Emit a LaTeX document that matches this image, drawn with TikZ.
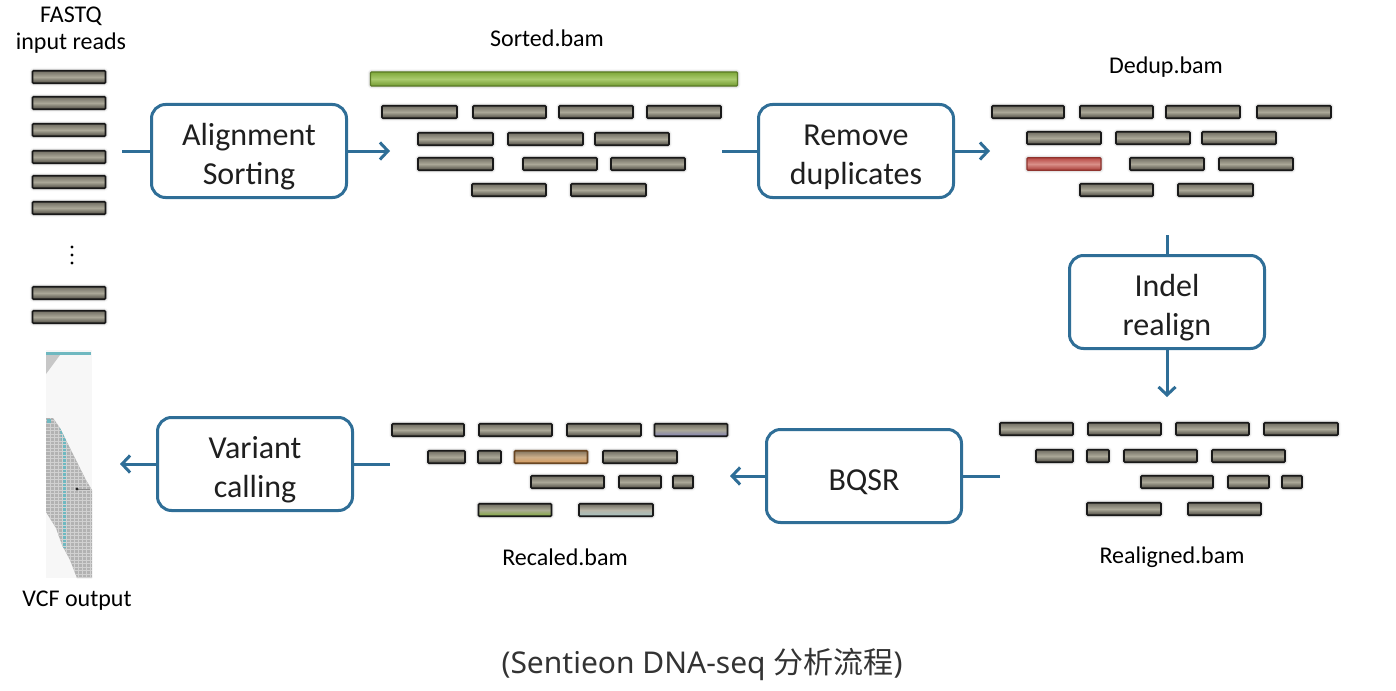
\documentclass[tikz,border=0pt]{standalone}
\usepackage{fontspec}
\setmainfont{Carlito}
\newfontfamily\cjk{Noto Sans CJK SC}
\newfontfamily\capfont{Noto Sans}
\usepackage{tikz}
\usetikzlibrary{arrows.meta,positioning,shadows.blur}

\definecolor{flow}{HTML}{2F6E97}
\definecolor{rdA}{HTML}{6F6C61}
\definecolor{rdC}{HTML}{ABA898}
\definecolor{rdB}{HTML}{4B4941}
\definecolor{refA}{HTML}{7FA83A}
\definecolor{refC}{HTML}{AACB6E}
\definecolor{refB}{HTML}{729A30}
\definecolor{dupA}{HTML}{B84A45}
\definecolor{dupC}{HTML}{D98F88}
\definecolor{dupB}{HTML}{A83C36}
\definecolor{orgC}{HTML}{CDAF8A}
\definecolor{orgB}{HTML}{D6995A}
\definecolor{vteal}{HTML}{6FB8C0}
\definecolor{capt}{HTML}{333333}

% text lines sit a little low in the step boxes
\newcommand{\lowln}[1]{\raisebox{-6pt}[\height][\depth]{#1}}

\begin{document}
\begin{tikzpicture}[
  x=1pt, y=-1pt,
  font=\fontsize{32}{39}\selectfont,
  proc/.style={draw=flow, line width=3pt, rounded corners=14pt, fill=white,
    minimum width=195pt, minimum height=93pt, align=center, text=black!88},
  lnk/.style={draw=flow, line width=3pt},
  rd/.style={draw=black!90, line width=1.7pt, rounded corners=1pt, inner sep=0pt,
    minimum height=12.5pt, top color=rdA, bottom color=rdB, middle color=rdC,
    blur shadow={shadow xshift=0pt, shadow yshift=0pt, shadow blur radius=3pt, shadow opacity=40}},
  lbl/.style={font=\fontsize{24}{27}\selectfont, align=center},
  >={Straight Barb[length=8pt,width=17pt]},
]
\useasboundingbox (0,0) rectangle (1396,690);

% process boxes
\node[proc] (align) at (249,151) {\lowln{Alignment}\\\lowln{Sorting}};
\node[proc] (dedup) at (856,151) {\lowln{Remove}\\\lowln{duplicates}};
\node[proc] (indel) at (1167,302) {\lowln{Indel}\\\lowln{realign}};
\node[proc] (bqsr) at (864,476) {\lowln{BQSR}};
\node[proc] (vcall) at (255,464) {\lowln{Variant}\\\lowln{calling}};

% free ends of the connectors
\coordinate (fqout) at (122,151);
\coordinate (srtin) at (390,151);
\coordinate (srtout) at (722,151);
\coordinate (ddin) at (990,151);
\coordinate (ddout) at (1167,235);
\coordinate (rlin) at (1167,397);
\coordinate (rlout) at (1000,476);
\coordinate (rcin) at (730,476);
\coordinate (rcout) at (390,464);
\coordinate (vcfin) at (120,464);

\draw[lnk] (fqout) -- (align);
\draw[lnk, ->] (align) -- (srtin);
\draw[lnk] (srtout) -- (dedup);
\draw[lnk, ->] (dedup) -- (ddin);
\draw[lnk] (ddout) -- (indel);
\draw[lnk, ->] (indel) -- (rlin);
\draw[lnk] (rlout) -- (bqsr);
\draw[lnk, ->] (bqsr) -- (rcin);
\draw[lnk] (rcout) -- (vcall);
\draw[lnk, ->] (vcall) -- (vcfin);

% FASTQ reads
\node[lbl] (fqlbl) at (71,30) {FASTQ\\input reads};
\foreach \y [count=\i] in {77,103,130,157,182,208,293,317}
  \node[rd, minimum width=73pt] (fq\i) at (69,\y) {};
\foreach \y in {247,255,263}
  \fill (72,\y) circle (1.6pt);

% Sorted.bam
\node[lbl] (srtlbl) at (547,38) {Sorted.bam};
\node[rd, minimum width=367pt, minimum height=14pt, line width=1.3pt, draw=refB!80!black,
  top color=refA, bottom color=refB, middle color=refC] (ref) at (554,79) {};
\foreach \a/\b/\y [count=\i] in {382/457/112, 473/546/112, 559/633/112, 647/721/112,
    418/493/139, 508/583/139, 595/669/139,
    418/493/164, 523/597/164, 611/685/164,
    472/546/190, 571/646/190}
  \node[rd, minimum width={\b-\a}] (srt\i) at ({(\a+\b)/2},\y) {};

% Dedup.bam
\node[lbl] (ddlbl) at (1166,67) {Dedup.bam};
\foreach \a/\b/\y [count=\i] in {992/1064/112, 1080/1153/112, 1166/1240/112, 1257/1331/112,
    1027/1101/138, 1116/1190/138, 1202/1276/138,
    1130/1204/164, 1219/1293/164,
    1080/1153/190, 1178/1253/190}
  \node[rd, minimum width={\b-\a}] (dd\i) at ({(\a+\b)/2},\y) {};
\node[rd, minimum width=74pt, line width=1.3pt, draw=dupB!85!black, top color=dupA, bottom color=dupB, middle color=dupC]
  (dup) at (1064,164) {};

% Realigned.bam
\node[lbl] (rllbl) at (1172,557) {Realigned.bam};
\foreach \a/\b/\y [count=\i] in {1000/1073/429, 1088/1161/429, 1176/1249/429, 1264/1338/429,
    1036/1073/456, 1087/1109/456, 1124/1197/456, 1212/1285/456,
    1141/1213/482, 1228/1269/482, 1282/1302/482,
    1087/1161/509, 1188/1261/509}
  \node[rd, minimum width={\b-\a}] (rl\i) at ({(\a+\b)/2},\y) {};

% Recaled.bam
\node[lbl] (rclbl) at (565,557) {Recaled.bam};
\foreach \a/\b/\y [count=\i] in {392/464/430, 479/552/430, 567/641/430,
    428/465/457, 478/501/457, 603/677/457,
    531/604/482, 619/661/482, 673/693/482}
  \node[rd, minimum width={\b-\a}] (rc\i) at ({(\a+\b)/2},\y) {};
\node[rd, minimum width=73pt, bottom color=blue!25!gray!80, middle color=rdC] (rcb1) at (691,430) {};
\node[rd, minimum width=73pt, draw=brown!55!black, top color=rdA!80!orgB, bottom color=orgB, middle color=orgC] (rco) at (551,457) {};
\node[rd, minimum width=73pt, bottom color=refA, middle color=rdC!90!refC] (rcg) at (515,510) {};
\node[rd, minimum width=74pt, bottom color=cyan!20!gray!60, middle color=rdC!85!white] (rcb2) at (616,510) {};

% VCF output (IGV view)
\fill[black!3] (46,350) rectangle (92,578);
\fill[vteal] (46,352) rectangle (91,355);
\fill[black!22] (46,355) -- (60,355) -- (46,374) -- cycle;
\begin{scope}
  \clip (46,418) -- (53,418) -- (60,428) -- (66,440) -- (72,452) -- (80,468)
    -- (86,480) -- (92,490) -- (92,578) -- (77,578) -- (70,560) -- (62,545)
    -- (56,528) -- (46,512) -- cycle;
  \fill[black!30] (40,410) rectangle (95,580);
  \fill[vteal] (59,423) -- (63,423) -- (67,445) -- (67,548) -- (63,548) -- (62,445) -- cycle;
  \foreach \yy in {420,423.5,...,578}
    \draw[black!18, line width=0.3pt] (46,\yy) -- (92,\yy);
  \foreach \xx in {50,54,...,92}
    \draw[black!18, line width=0.3pt] (\xx,418) -- (\xx,578);
\end{scope}
\fill[vteal] (47,419) rectangle (51,423);
\draw[black!45, line width=0.6pt] (77,489) -- (90,489);
\fill[black!85] (77,489) circle (1.6pt);
\node[lbl] (vcflbl) at (77,601) {VCF output};

% caption
\node[font=\capfont\fontsize{30}{34}\selectfont, text=capt] (cap) at (702,664) {(Sentieon DNA-seq {\cjk 分析流程})};
\end{tikzpicture}
\end{document}
